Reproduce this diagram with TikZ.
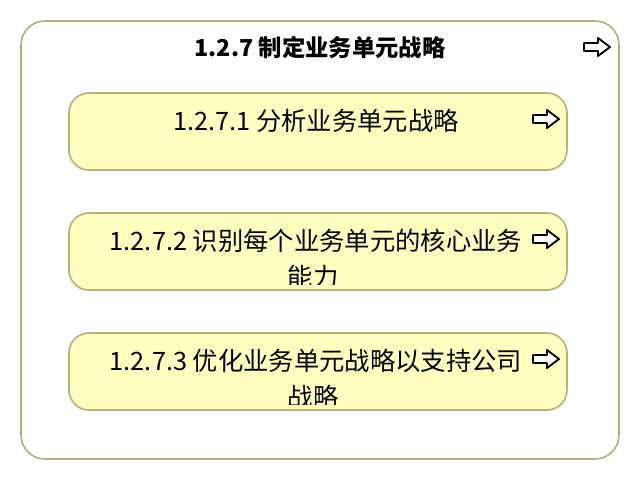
\documentclass[tikz,border=0pt]{standalone}
\usepackage{fontspec}
\setmainfont{Noto Sans CJK SC}
\definecolor{grpline}{RGB}{178,178,120}
\definecolor{taskfill}{RGB}{255,255,192}
\begin{document}
\begin{tikzpicture}[x=0.75pt, y=-0.75pt, line join=round, line cap=round,
    frame/.style={draw=grpline, line width=1.2pt, rounded corners=18pt, fill=white},
    task/.style={draw=grpline, line width=1.2pt, rounded corners=15pt, fill=taskfill,
        minimum width=373.5pt, minimum height=57.75pt, inner sep=0pt},
    label/.style={font=\fontsize{19}{22}\selectfont, inner sep=0pt},
    jump/.style={draw=black, line width=1.4pt, fill=white}]
    \useasboundingbox (0,0) rectangle (640,480);
    % outer frame
    \node[frame, minimum width=448.5pt, minimum height=328.5pt] (grp) at (320,240) {};
    \node[label, font=\fontsize{17.5}{20}\selectfont\bfseries] (title) at (320,47) {1.2.7 制定业务单元战略};
    % sub tasks
    \node[task] (t1) at (318,131.5) {};
    \node[task] (t2) at (318,251.5) {};
    \node[task] (t3) at (318,371.5) {};
    \node[label] (l1) at (316,121) {1.2.7.1 分析业务单元战略};
    \begin{scope}
        \clip (t2.north west) rectangle ([yshift=4.5pt]t2.south east);
        \node[label] (l2) at (316,241) {1.2.7.2 识别每个业务单元的核心业务};
        \node[label] (l2b) at (313,277) {能力};
    \end{scope}
    \begin{scope}
        \clip (t3.north west) rectangle ([yshift=4.5pt]t3.south east);
        \node[label] (l3) at (316,361) {1.2.7.3 优化业务单元战略以支持公司};
        \node[label] (l3b) at (313,397) {战略};
    \end{scope}
    % jump arrows
    \foreach \cx/\cy in {597/47, 546/119, 546/239, 546/359}
        \draw[jump] (\cx-13,\cy-4) -- (\cx+1,\cy-4) -- (\cx+1,\cy-9) -- (\cx+13,\cy)
            -- (\cx+1,\cy+9) -- (\cx+1,\cy+4) -- (\cx-13,\cy+4) -- cycle;
\end{tikzpicture}
\end{document}
